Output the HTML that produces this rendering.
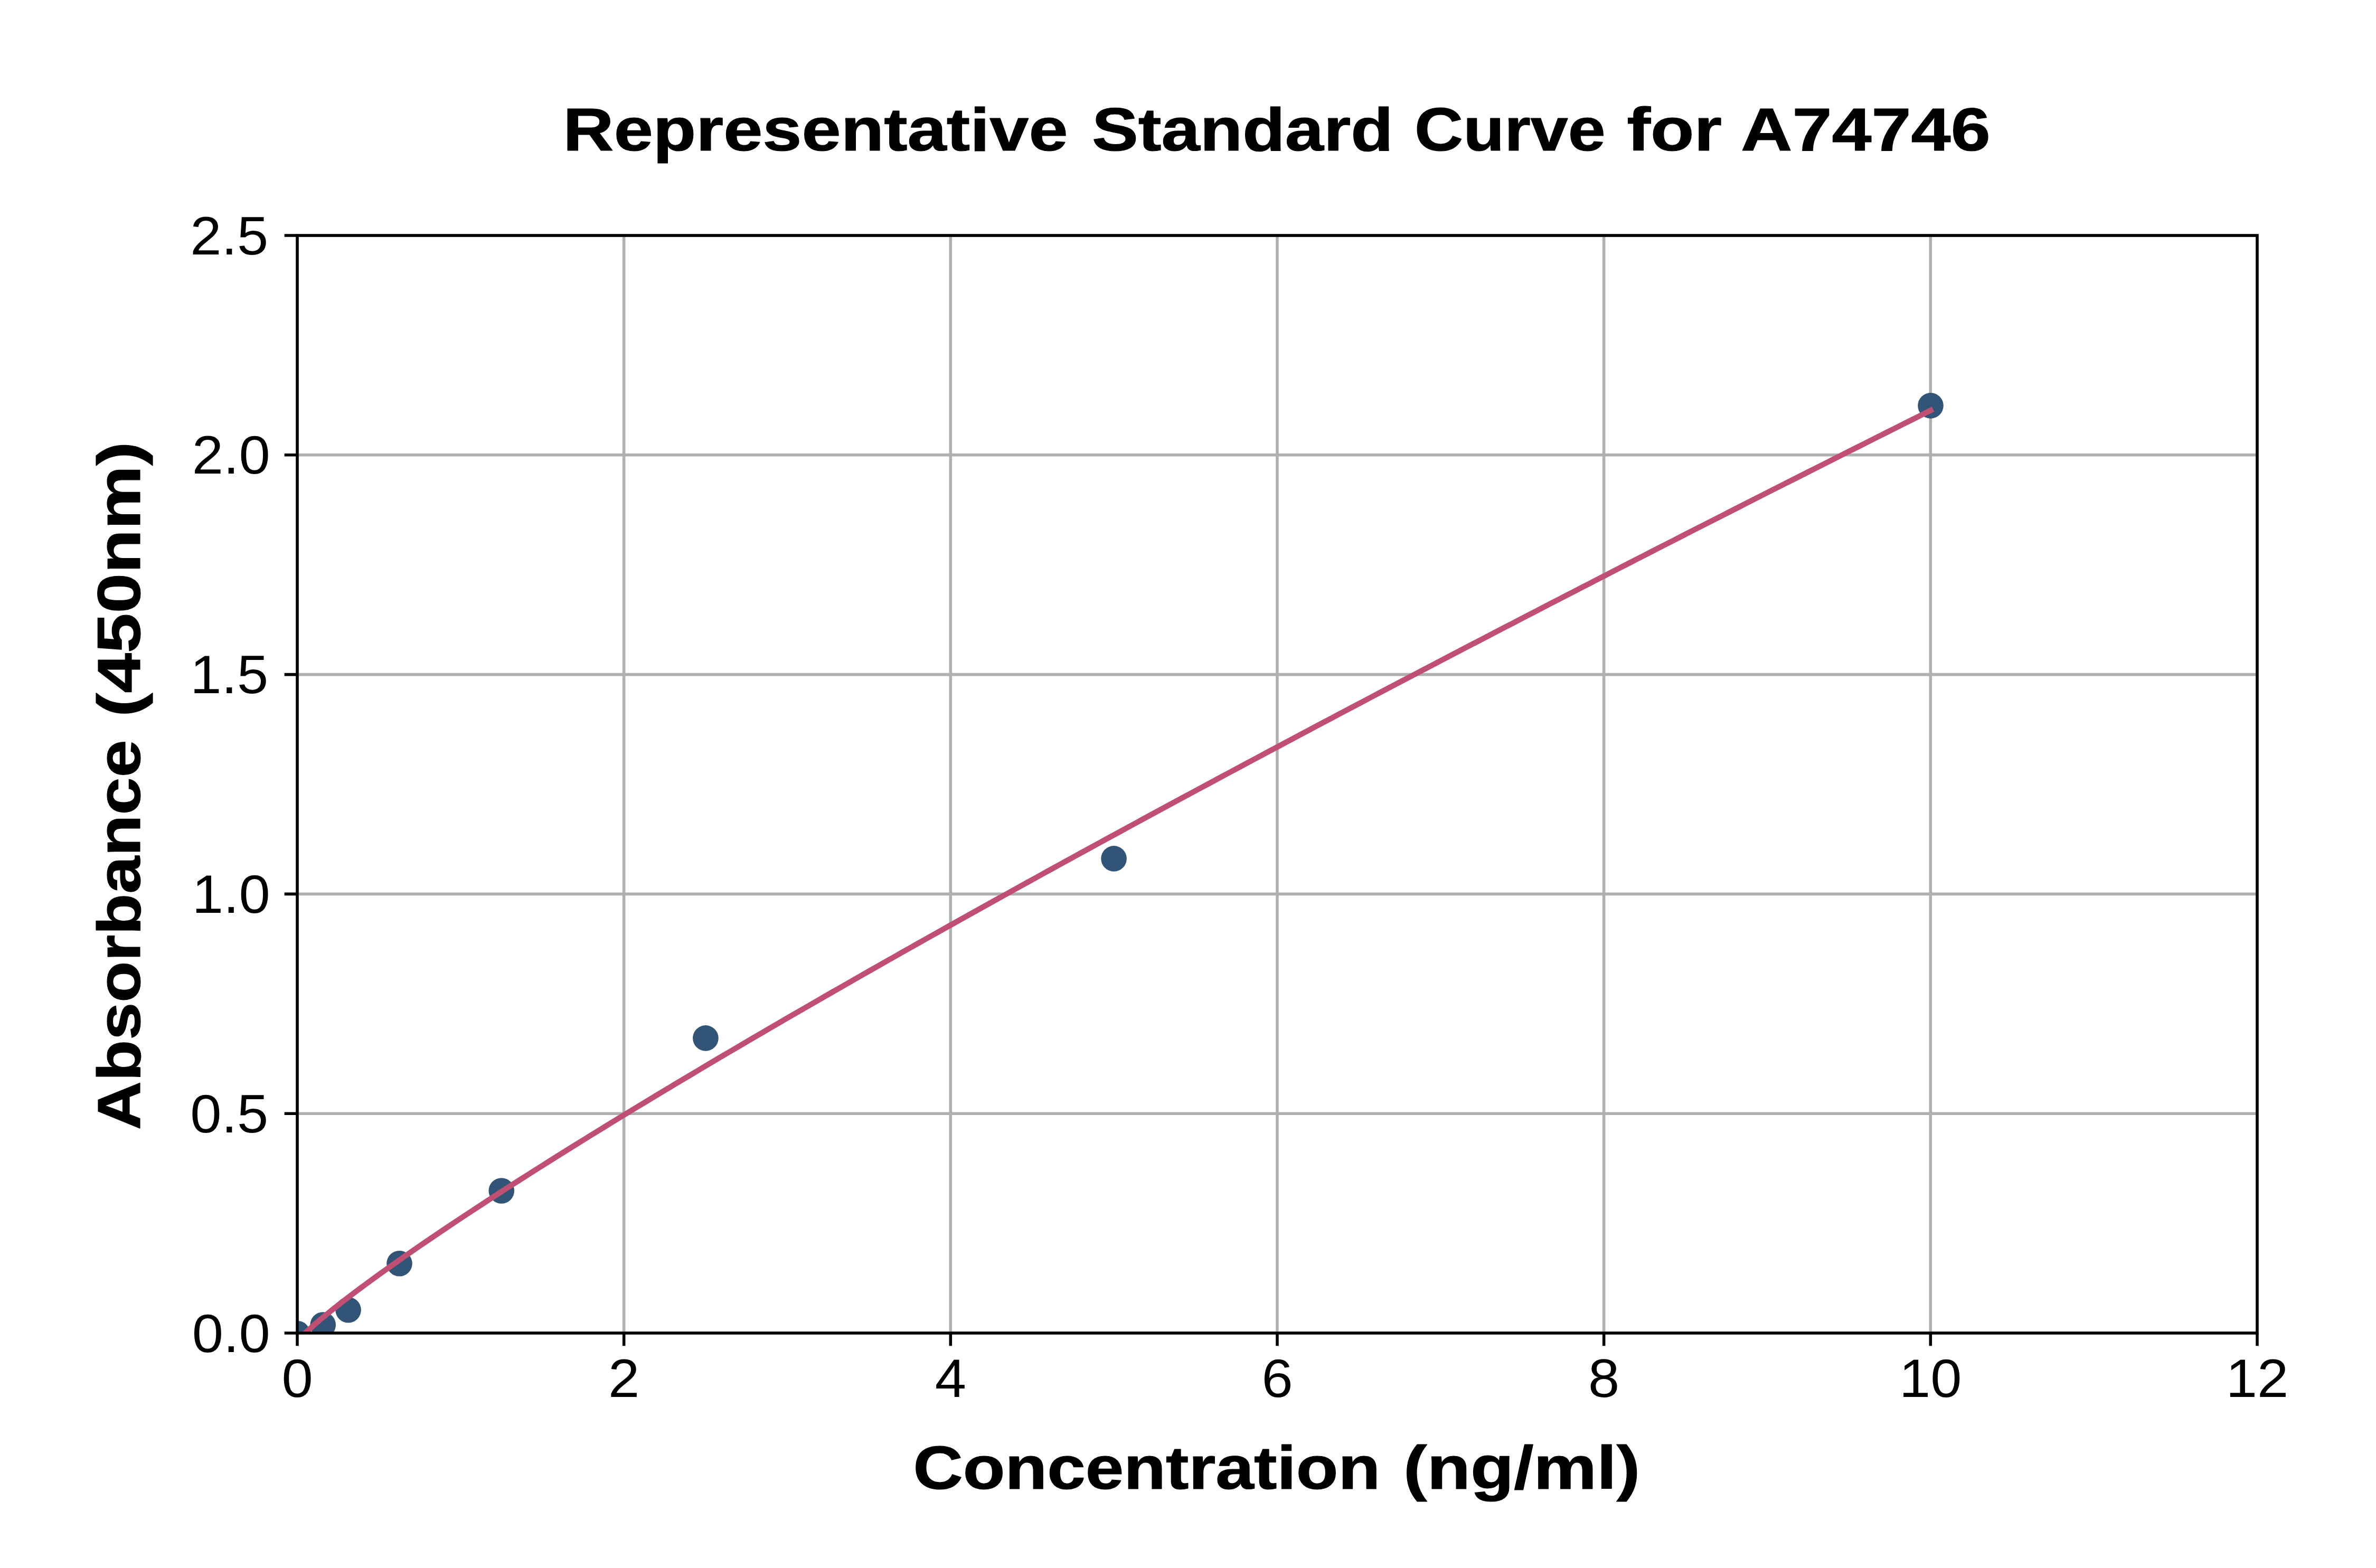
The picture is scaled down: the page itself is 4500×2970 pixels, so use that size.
<!DOCTYPE html><html><head><meta charset="utf-8"><style>html,body{margin:0;padding:0;background:#fff;}svg{display:block;}</style></head><body><svg width="4500" height="2970" viewBox="0 0 4500 2970"><rect width="4500" height="2970" fill="#fff"/><defs><clipPath id="ax"><rect x="563.0" y="446.0" width="3712.0" height="2079.0"/></clipPath></defs><path d="M563.00 446.0V2525.0M1181.67 446.0V2525.0M1800.33 446.0V2525.0M2419.00 446.0V2525.0M3037.67 446.0V2525.0M3656.33 446.0V2525.0M4275.00 446.0V2525.0M563.0 2525.00H4275.0M563.0 2109.20H4275.0M563.0 1693.40H4275.0M563.0 1277.60H4275.0M563.0 861.80H4275.0M563.0 446.00H4275.0" stroke="#b0b0b0" stroke-width="5.56" fill="none" stroke-linecap="square" clip-path="url(#ax)"/><g clip-path="url(#ax)" fill="#325476"><circle cx="563.00" cy="2526.00" r="24.3"/><circle cx="611.70" cy="2509.50" r="24.3"/><circle cx="659.60" cy="2481.30" r="24.3"/><circle cx="756.50" cy="2393.30" r="24.3"/><circle cx="949.75" cy="2255.50" r="24.3"/><circle cx="1336.40" cy="1966.40" r="24.3"/><circle cx="2109.60" cy="1626.40" r="24.3"/><circle cx="3656.50" cy="768.40" r="24.3"/></g><path d="M563.00 2541.39 L566.97 2536.30 L570.93 2532.03 L574.90 2528.03 L578.86 2524.19 L582.83 2520.46 L586.79 2516.83 L590.76 2513.27 L594.73 2509.77 L598.69 2506.33 L602.66 2502.93 L606.62 2499.57 L610.59 2496.25 L614.56 2492.96 L618.52 2489.71 L622.49 2486.48 L626.45 2483.28 L630.42 2480.10 L634.38 2476.94 L638.35 2473.81 L642.32 2470.70 L646.28 2467.60 L650.25 2464.52 L654.21 2461.46 L658.18 2458.42 L662.15 2455.39 L666.11 2452.38 L670.08 2449.38 L674.04 2446.39 L678.01 2443.42 L681.97 2440.46 L685.94 2437.51 L689.91 2434.57 L693.87 2431.65 L697.84 2428.73 L701.80 2425.83 L705.77 2422.93 L709.74 2420.05 L713.70 2417.17 L717.67 2414.31 L732.46 2403.69 L747.25 2393.19 L762.04 2382.79 L776.83 2372.49 L791.62 2362.27 L806.41 2352.13 L821.21 2342.07 L836.00 2332.08 L850.79 2322.15 L865.58 2312.28 L880.37 2302.48 L895.16 2292.73 L909.95 2283.03 L924.74 2273.38 L939.54 2263.78 L954.33 2254.23 L969.12 2244.72 L983.91 2235.25 L998.70 2225.82 L1013.49 2216.43 L1028.28 2207.08 L1043.07 2197.77 L1057.87 2188.49 L1072.66 2179.24 L1087.45 2170.03 L1102.24 2160.85 L1117.03 2151.69 L1131.82 2142.57 L1146.61 2133.48 L1161.40 2124.42 L1176.20 2115.38 L1190.99 2106.37 L1205.78 2097.38 L1220.57 2088.42 L1235.36 2079.49 L1250.15 2070.58 L1264.94 2061.69 L1279.73 2052.83 L1294.53 2043.98 L1309.32 2035.16 L1324.11 2026.36 L1338.90 2017.58 L1353.69 2008.83 L1368.48 2000.09 L1383.27 1991.37 L1398.06 1982.67 L1412.86 1973.99 L1427.65 1965.33 L1442.44 1956.68 L1457.23 1948.06 L1472.02 1939.45 L1486.81 1930.85 L1501.60 1922.28 L1516.39 1913.72 L1531.19 1905.18 L1545.98 1896.65 L1560.77 1888.14 L1575.56 1879.64 L1590.35 1871.16 L1605.14 1862.70 L1619.93 1854.25 L1634.72 1845.81 L1649.52 1837.39 L1664.31 1828.98 L1679.10 1820.59 L1693.89 1812.21 L1708.68 1803.84 L1723.47 1795.48 L1738.26 1787.14 L1753.06 1778.81 L1767.85 1770.50 L1782.64 1762.19 L1797.43 1753.90 L1812.22 1745.62 L1827.01 1737.36 L1841.80 1729.10 L1856.59 1720.86 L1871.39 1712.63 L1886.18 1704.41 L1900.97 1696.20 L1915.76 1688.00 L1930.55 1679.81 L1945.34 1671.64 L1960.13 1663.47 L1974.92 1655.31 L1989.72 1647.17 L2004.51 1639.03 L2019.30 1630.91 L2034.09 1622.80 L2048.88 1614.69 L2063.67 1606.60 L2078.46 1598.51 L2093.25 1590.44 L2108.05 1582.37 L2122.84 1574.32 L2137.63 1566.27 L2152.42 1558.23 L2167.21 1550.20 L2182.00 1542.18 L2196.79 1534.17 L2211.58 1526.17 L2226.38 1518.18 L2241.17 1510.20 L2255.96 1502.22 L2270.75 1494.25 L2285.54 1486.30 L2300.33 1478.35 L2315.12 1470.40 L2329.91 1462.47 L2344.71 1454.54 L2359.50 1446.63 L2374.29 1438.72 L2389.08 1430.82 L2403.87 1422.92 L2418.66 1415.04 L2433.45 1407.16 L2448.24 1399.29 L2463.04 1391.42 L2477.83 1383.57 L2492.62 1375.72 L2507.41 1367.88 L2522.20 1360.05 L2536.99 1352.22 L2551.78 1344.40 L2566.57 1336.59 L2581.37 1328.78 L2596.16 1320.99 L2610.95 1313.20 L2625.74 1305.41 L2640.53 1297.63 L2655.32 1289.86 L2670.11 1282.10 L2684.90 1274.34 L2699.70 1266.59 L2714.49 1258.85 L2729.28 1251.11 L2744.07 1243.38 L2758.86 1235.66 L2773.65 1227.94 L2788.44 1220.23 L2803.23 1212.52 L2818.03 1204.82 L2832.82 1197.13 L2847.61 1189.44 L2862.40 1181.76 L2877.19 1174.09 L2891.98 1166.42 L2906.77 1158.75 L2921.56 1151.10 L2936.36 1143.45 L2951.15 1135.80 L2965.94 1128.16 L2980.73 1120.53 L2995.52 1112.90 L3010.31 1105.28 L3025.10 1097.66 L3039.89 1090.05 L3054.69 1082.45 L3069.48 1074.85 L3084.27 1067.25 L3099.06 1059.66 L3113.85 1052.08 L3128.64 1044.50 L3143.43 1036.93 L3158.23 1029.36 L3173.02 1021.80 L3187.81 1014.24 L3202.60 1006.69 L3217.39 999.14 L3232.18 991.60 L3246.97 984.07 L3261.76 976.54 L3276.56 969.01 L3291.35 961.49 L3306.14 953.97 L3320.93 946.46 L3335.72 938.96 L3350.51 931.45 L3365.30 923.96 L3380.09 916.47 L3394.89 908.98 L3409.68 901.50 L3424.47 894.02 L3439.26 886.55 L3454.05 879.08 L3468.84 871.62 L3483.63 864.16 L3498.42 856.71 L3513.22 849.26 L3528.01 841.81 L3542.80 834.37 L3557.59 826.94 L3572.38 819.51 L3587.17 812.08 L3601.96 804.66 L3616.75 797.24 L3631.55 789.83 L3646.34 782.42 L3661.13 775.02" stroke="#c05073" stroke-width="10.42" fill="none" stroke-linejoin="round" stroke-linecap="butt" clip-path="url(#ax)"/><rect x="563.0" y="446.0" width="3712.0" height="2079.0" fill="none" stroke="#000" stroke-width="5.56" stroke-linejoin="miter"/><path d="M563.00 2525.0v24.31M1181.67 2525.0v24.31M1800.33 2525.0v24.31M2419.00 2525.0v24.31M3037.67 2525.0v24.31M3656.33 2525.0v24.31M4275.00 2525.0v24.31M563.0 2525.00h-24.31M563.0 2109.20h-24.31M563.0 1693.40h-24.31M563.0 1277.60h-24.31M563.0 861.80h-24.31M563.0 446.00h-24.31" stroke="#000" stroke-width="5.56" fill="none"/><text transform="translate(1066.33 285.43) scale(1.3339 1.1489)" font-family="Liberation Sans" font-weight="bold" font-size="100" fill="#000" stroke="#000" stroke-width="1.0" stroke-linejoin="round">Representative</text><text transform="translate(2067.91 285.43) scale(1.3172 1.1489)" font-family="Liberation Sans" font-weight="bold" font-size="100" fill="#000" stroke="#000" stroke-width="1.0" stroke-linejoin="round">Standard</text><text transform="translate(2679.03 285.43) scale(1.2762 1.1489)" font-family="Liberation Sans" font-weight="bold" font-size="100" fill="#000" stroke="#000" stroke-width="1.0" stroke-linejoin="round">Curve</text><text transform="translate(3081.18 285.43) scale(1.3496 1.1489)" font-family="Liberation Sans" font-weight="bold" font-size="100" fill="#000" stroke="#000" stroke-width="1.0" stroke-linejoin="round">for</text><text transform="translate(3296.93 285.43) scale(1.3499 1.1489)" font-family="Liberation Sans" font-weight="bold" font-size="100" fill="#000" stroke="#000" stroke-width="1.0" stroke-linejoin="round">A74746</text><text transform="translate(1729.43 2820.43) scale(1.3054 1.1489)" font-family="Liberation Sans" font-weight="bold" font-size="100" fill="#000" stroke="#000" stroke-width="1.0" stroke-linejoin="round">Concentration</text><text transform="translate(2658.05 2820.43) scale(1.3454 1.1489)" font-family="Liberation Sans" font-weight="bold" font-size="100" fill="#000" stroke="#000" stroke-width="1.0" stroke-linejoin="round">(ng/ml)</text><text transform="translate(265.43 2140.20) rotate(-90) scale(1.2787 1.1489)" font-family="Liberation Sans" font-weight="bold" font-size="100" fill="#000" stroke="#000" stroke-width="1.0" stroke-linejoin="round">Absorbance</text><text transform="translate(265.43 1357.82) rotate(-90) scale(1.3592 1.1489)" font-family="Liberation Sans" font-weight="bold" font-size="100" fill="#000" stroke="#000" stroke-width="1.0" stroke-linejoin="round">(450nm)</text><text transform="translate(511.80 2560.50) scale(1.065 1.0141)" text-anchor="end" font-family="Liberation Sans" font-size="100" fill="#000">0.0</text><text transform="translate(508.30 2144.70) scale(1.065 1.0141)" text-anchor="end" font-family="Liberation Sans" font-size="100" fill="#000">0.5</text><text transform="translate(511.80 1728.90) scale(1.065 1.0141)" text-anchor="end" font-family="Liberation Sans" font-size="100" fill="#000">1.0</text><text transform="translate(508.30 1313.10) scale(1.065 1.0141)" text-anchor="end" font-family="Liberation Sans" font-size="100" fill="#000">1.5</text><text transform="translate(511.80 897.30) scale(1.065 1.0141)" text-anchor="end" font-family="Liberation Sans" font-size="100" fill="#000">2.0</text><text transform="translate(508.30 481.50) scale(1.065 1.0141)" text-anchor="end" font-family="Liberation Sans" font-size="100" fill="#000">2.5</text><text transform="translate(563.00 2646) scale(1.065 1.0141)" text-anchor="middle" font-family="Liberation Sans" font-size="100" fill="#000">0</text><text transform="translate(1181.67 2646) scale(1.065 1.0141)" text-anchor="middle" font-family="Liberation Sans" font-size="100" fill="#000">2</text><text transform="translate(1800.33 2646) scale(1.065 1.0141)" text-anchor="middle" font-family="Liberation Sans" font-size="100" fill="#000">4</text><text transform="translate(2419.00 2646) scale(1.065 1.0141)" text-anchor="middle" font-family="Liberation Sans" font-size="100" fill="#000">6</text><text transform="translate(3037.67 2646) scale(1.065 1.0141)" text-anchor="middle" font-family="Liberation Sans" font-size="100" fill="#000">8</text><text transform="translate(3656.33 2646) scale(1.065 1.0141)" text-anchor="middle" font-family="Liberation Sans" font-size="100" fill="#000">10</text><text transform="translate(4275.00 2646) scale(1.065 1.0141)" text-anchor="middle" font-family="Liberation Sans" font-size="100" fill="#000">12</text></svg></body></html>
